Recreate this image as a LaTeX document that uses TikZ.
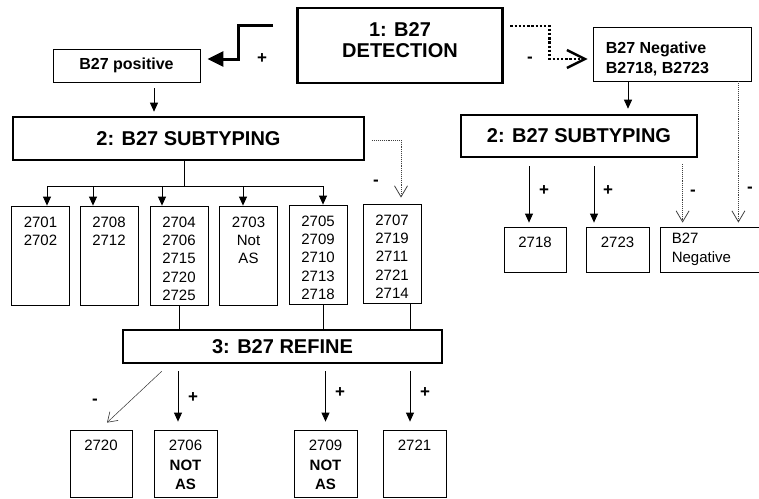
\documentclass[tikz,border=0pt]{standalone}
\usepackage{fontspec}
\setmainfont{Liberation Sans}
\usetikzlibrary{arrows.meta}

\begin{document}
\begin{tikzpicture}[x=1pt, y=-1pt,
    thickbox/.style={draw, line width=2.6pt, inner sep=0pt, font=\fontsize{20}{21}\selectfont\bfseries},
    thinbox/.style={draw, line width=0.8pt, inner sep=0pt},
    cell/.style={thinbox, minimum width=58pt, minimum height=99pt},
    leaf/.style={thinbox, minimum width=63pt},
    intext/.style={inner sep=0pt, anchor=north, align=center, font=\fontsize{15}{18.3}\selectfont},
    leaftext/.style={intext, font=\fontsize{15}{19.5}\selectfont},
    sign/.style={inner sep=0pt, font=\fontsize{17}{17}\selectfont\bfseries},
    arrow/.style={-{Triangle[length=9pt, width=8pt]}, line width=0.8pt},
    bigarrow/.style={-{Triangle[length=16pt, width=15pt]}, line width=3pt},
    openarrow/.style={-{Straight Barb[length=9pt, width=12pt, line width=0.6pt]}, line width=0.5pt, black!80},
    dotarrow/.style={-{Straight Barb[length=11pt, width=13pt, line width=0.8pt]}, densely dotted, line width=0.9pt, black!75},
    bigdotarrow/.style={-{Straight Barb[length=18pt, width=18pt, line width=2.4pt]}, dash pattern=on 2.4pt off 1.8pt, line width=2.4pt},
    link/.style={line width=0.8pt}]

    \useasboundingbox (0,0) rectangle (759,498);

    % step 1: detection
    \node (det) [thickbox, minimum width=205pt, minimum height=75pt,
        label={[intext, font=\fontsize{20}{21}\selectfont\bfseries, yshift=-16pt]north:{1: B27\\DETECTION}}] at (400,45.5) {};
    \node (pos) [thinbox, minimum width=147pt, minimum height=33pt, font=\fontsize{16}{20}\selectfont\bfseries] at (126.5,65.5) {B27 positive};
    \node (neg) [thinbox, minimum width=158pt, minimum height=54pt,
        label={[intext, anchor=north west, align=left, font=\fontsize{16}{20}\selectfont\bfseries, xshift=13pt, yshift=-15pt]north west:{B27 Negative\\B2718, B2723}}] at (672,54) {};

    \draw [bigarrow] ([xshift=-23pt, yshift=-19pt]det.north west) -- ++(-35,0) |- ([xshift=7pt, yshift=6.5pt]pos.east);
    \node (plus0) [sign] at (262,59) {+};
    \draw [bigdotarrow] ([xshift=6.5pt, yshift=-19pt]det.north east) -- ++(39,0) |- ([xshift=-5pt, yshift=-5pt]neg.west);
    \node (minus0) [sign] at (530,60) {-};

    % step 2: subtyping of positives
    \node (subl) [thickbox, minimum width=351pt, minimum height=43pt] at (188.5,138.5) {2: B27 SUBTYPING};
    \draw [arrow, shorten <=6pt, shorten >=4pt] ([xshift=27.5pt]pos.south) -- ([xshift=27.5pt]pos.south |- subl.north);

    \node (c1) [cell, label={[intext, yshift=-11pt]north:{2701\\2702}}] at (40.5,255.5) {};
    \node (c2) [cell, label={[intext, yshift=-11pt]north:{2708\\2712}}] at (109,255.5) {};
    \node (c3) [cell, label={[intext, yshift=-11pt]north:{2704\\2706\\2715\\2720\\2725}}] at (179,255.5) {};
    \node (c4) [cell, label={[intext, yshift=-11pt]north:{2703\\Not\\AS}}] at (248.5,255.5) {};
    \node (c5) [cell, label={[intext, yshift=-11pt]north:{2705\\2709\\2710\\2713\\2718}}] at (318,254.5) {};
    \node (c6) [cell, label={[intext, yshift=-11pt]north:{2707\\2719\\2711\\2721\\2714}}] at (392,253.5) {};

    \coordinate (fork) at (184,186);
    \draw [link] (subl.south -| fork) -- (fork);
    \draw [link] ([xshift=6.5pt]c1.north |- fork) -- ([xshift=5pt]c5.north |- fork);
    \foreach \c/\dx in {c1/6.5, c2/-16, c3/-17, c4/-5.5, c5/5}
        \draw [arrow] ([xshift=\dx pt]\c.north |- fork) -- ([xshift=\dx pt]\c.north);

    \draw [dotarrow] ([xshift=7pt, yshift=-1.5pt]subl.east) -| ([xshift=9pt, yshift=6pt]c6.north);
    \node (minus1) [sign] at (376,183) {-};

    % step 3: refine
    \node (ref) [thickbox, minimum width=319pt, minimum height=33pt] at (282.5,346.5) {3: B27 REFINE};
    \draw [link] (c3.south) -- (c3.south |- ref.north);
    \draw [link] ([xshift=5pt]c5.south) -- ([xshift=5pt]c5.south |- ref.north);
    \draw [link] ([xshift=18pt]c6.south) -- ([xshift=18pt]c6.south |- ref.north);

    \node (l1) [leaf, minimum width=62pt, minimum height=67pt, label={[leaftext, yshift=-10.5pt]north:2720}] at (101,463.5) {};
    \node (l2) [leaf, minimum height=67pt, label={[leaftext, yshift=-10.5pt]north:{2706\\\textbf{NOT}\\\textbf{AS}}}] at (185.5,463.5) {};
    \node (l3) [leaf, minimum height=67pt, label={[leaftext, yshift=-10.5pt]north:{2709\\\textbf{NOT}\\\textbf{AS}}}] at (325.5,463.5) {};
    \node (l4) [leaf, minimum height=67pt, label={[leaftext, yshift=-10.5pt]north:2721}] at (414.5,463.5) {};

    \draw [openarrow] ([xshift=40pt, yshift=-7pt]ref.south west) -- ([xshift=6pt, yshift=7pt]l1.north);
    \node (minus2) [sign] at (95,402) {-};
    \draw [arrow, shorten <=7pt, shorten >=8pt] ([xshift=-7.5pt]l2.north |- ref.south) -- ([xshift=-7.5pt]l2.north);
    \node (plus2) [sign] at (193,398) {+};
    \draw [arrow, shorten <=7pt, shorten >=8pt] (l3.north |- ref.south) -- (l3.north);
    \node (plus3) [sign] at (340,393) {+};
    \draw [arrow, shorten <=7pt, shorten >=8pt] ([xshift=-4.5pt]l4.north |- ref.south) -- ([xshift=-4.5pt]l4.north);
    \node (plus4) [sign] at (425,393) {+};

    % step 2: subtyping of negatives
    \node (subr) [thickbox, minimum width=236pt, minimum height=42pt] at (579,136) {2: B27 SUBTYPING};
    \draw [arrow, shorten >=5pt] ([xshift=-44pt]neg.south) -- ([xshift=-44pt]neg.south |- subr.north);

    \node (r1) [leaf, minimum width=62pt, minimum height=45pt, label={[intext, yshift=-10pt]north:2718}] at (535,249.5) {};
    \node (r2) [leaf, minimum height=45pt, label={[intext, yshift=-10pt]north:2723}] at (617.5,249.5) {};
    \node (r3) [leaf, minimum width=102pt, minimum height=45pt,
        label={[intext, anchor=north west, align=left, font=\fontsize{15}{19}\selectfont, xshift=12pt, yshift=-6pt]north west:{B27\\Negative}}] at (711,249.5) {};

    \draw [arrow, shorten <=8pt, shorten >=4pt] ([xshift=-6pt]r1.north |- subr.south) -- ([xshift=-6pt]r1.north);
    \node (plus5) [sign] at (544,191) {+};
    \draw [arrow, shorten <=8pt, shorten >=4pt] ([xshift=-23.5pt]r2.north |- subr.south) -- ([xshift=-23.5pt]r2.north);
    \node (plus6) [sign] at (608,191) {+};
    \draw [dotarrow, shorten <=6pt, shorten >=4pt] ([xshift=23pt]r3.north west |- subr.south) -- ([xshift=23pt]r3.north west);
    \node (minus3) [sign] at (693,193) {-};
    \draw [dotarrow, shorten >=4pt] ([xshift=-13pt]neg.south east) -- ([xshift=-13pt]neg.south east |- r3.north);
    \node (minus4) [sign] at (750,190) {-};
\end{tikzpicture}
\end{document}
